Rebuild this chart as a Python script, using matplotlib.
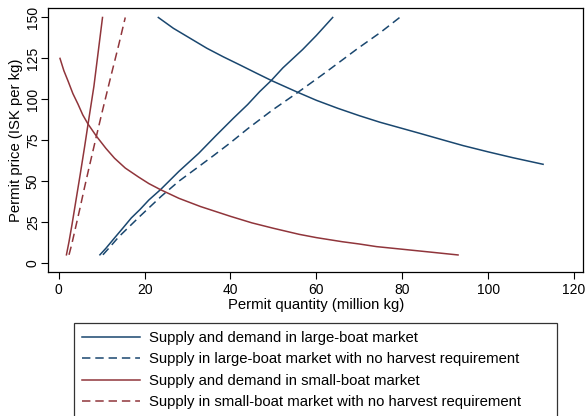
import matplotlib
matplotlib.use('Agg')
import matplotlib.pyplot as plt

plt.rcParams['font.family'] = ['Liberation Sans', 'DejaVu Sans']

navy = '#1a476f'
maroon = '#90353b'

# large-boat market (quantity in million kg, price in ISK per kg)
large_dem_q = [23.2, 26.7, 30.6, 34.5, 38.3, 42.2, 46.1, 49.6, 55.3, 60, 65, 70, 74.8,
               80, 84.1, 90, 94.2, 100, 105.8, 112.8]
large_dem_p = [150, 143.4, 137.3, 131.2, 126, 121, 115.9, 111.4, 104.7, 99.4, 94.5, 90, 86,
               82.2, 79.2, 74.8, 71.7, 67.9, 64.3, 60.3]
large_sup_q = [9.6, 11, 13, 15, 16.9, 18.9, 21, 23.7, 28, 32.6, 36.5, 40.7, 44, 46.8,
               49.5, 52.2, 56.8, 60, 63.8]
large_sup_p = [5, 9, 15.3, 21.5, 27.5, 32.6, 38.5, 44.8, 56, 67, 77.5, 88.5, 96.8, 104.7,
               111.5, 119.2, 130.4, 139, 150]
large_nh_q = [10.3, 12, 14, 16.9, 18.9, 23.9, 28, 32.4, 36, 40, 44, 49.8, 55.3, 61.4,
              65, 69.6, 75, 79.4]
large_nh_p = [5, 10, 16, 23.4, 28.5, 40.8, 50, 58.5, 65.5, 73.5, 82, 93.5, 103.5, 115,
              122, 131, 141, 150]

# small-boat market
small_dem_q = [0.3, 1.2, 2.2, 3.3, 4.5, 5.6, 6.8, 8.8, 11, 13, 15.5, 18.6, 21, 23.7, 28, 33,
               40, 45, 50, 56, 60, 66, 70, 74, 80, 86, 93]
small_dem_p = [125, 117.5, 111, 103.5, 97, 90.5, 85, 77.4, 70, 64, 58, 52.5, 48.5, 44.8, 39.5,
               34.5, 28.5, 24.5, 21.2, 17.5, 15.5, 13, 11.6, 10, 8.4, 6.8, 4.9]
small_sup_q = [1.8, 2.4, 3.1, 4, 5, 6, 6.84, 8.2, 9.2, 10.2]
small_sup_p = [5, 13, 23.5, 38, 54, 70.5, 85, 108, 129, 150]
small_nh_q = [2.4, 3, 4, 5, 6, 7, 8.77, 10, 12, 14, 15.5]
small_nh_p = [5, 11, 22.5, 34, 46, 57.5, 77.4, 91, 112.5, 133.5, 150]

labels = ['Supply and demand in large-boat market',
          'Supply in large-boat market with no harvest requirement',
          'Supply and demand in small-boat market',
          'Supply in small-boat market with no harvest requirement']

fig = plt.figure(figsize=(5.86, 4.16), dpi=100)
ax = fig.add_axes([0.0826, 0.3462, 0.9123, 0.6346])

lw = 1.1
dash = (5.5, 3.2)
l1, = ax.plot(large_dem_q, large_dem_p, color=navy, lw=lw)
ax.plot(large_sup_q, large_sup_p, color=navy, lw=lw)
l2, = ax.plot(large_nh_q, large_nh_p, color=navy, lw=lw, dashes=dash)
l3, = ax.plot(small_dem_q, small_dem_p, color=maroon, lw=lw)
ax.plot(small_sup_q, small_sup_p, color=maroon, lw=lw)
l4, = ax.plot(small_nh_q, small_nh_p, color=maroon, lw=lw, dashes=dash)

ax.set_xlim(-2.4, 122.1)
ax.set_ylim(-5.5, 155.8)
ax.set_xticks([0, 20, 40, 60, 80, 100, 120])
ax.set_yticks([0, 25, 50, 75, 100, 125, 150])
ax.tick_params(direction='out', length=4.7, width=0.8, labelsize=10)
ax.tick_params(axis='x', pad=3)
ax.tick_params(axis='y', pad=1.5)
for lab in ax.get_yticklabels():
    lab.set_rotation(90)
    lab.set_va('center')
ax.set_xlabel('Permit quantity (million kg)', fontsize=10.7)
ax.set_ylabel('Permit price (ISK per kg)', fontsize=10.7)
ax.xaxis.set_label_coords(0.5, -0.098)
ax.yaxis.set_label_coords(-0.047, 0.5)
for s in ax.spines.values():
    s.set_linewidth(0.9)

leg = fig.legend([l1, l2, l3, l4], labels, loc='upper left',
                 bbox_to_anchor=(0.126, 0.2236, 0.8245, 0.0), mode='expand',
                 fontsize=10.7, frameon=True, fancybox=False, handlelength=3.9,
                 labelspacing=0.49, borderpad=0.55, handletextpad=0.6,
                 borderaxespad=0)
leg.get_frame().set_edgecolor('black')
leg.get_frame().set_linewidth(0.9)

fig.savefig('out.png', dpi=100)
